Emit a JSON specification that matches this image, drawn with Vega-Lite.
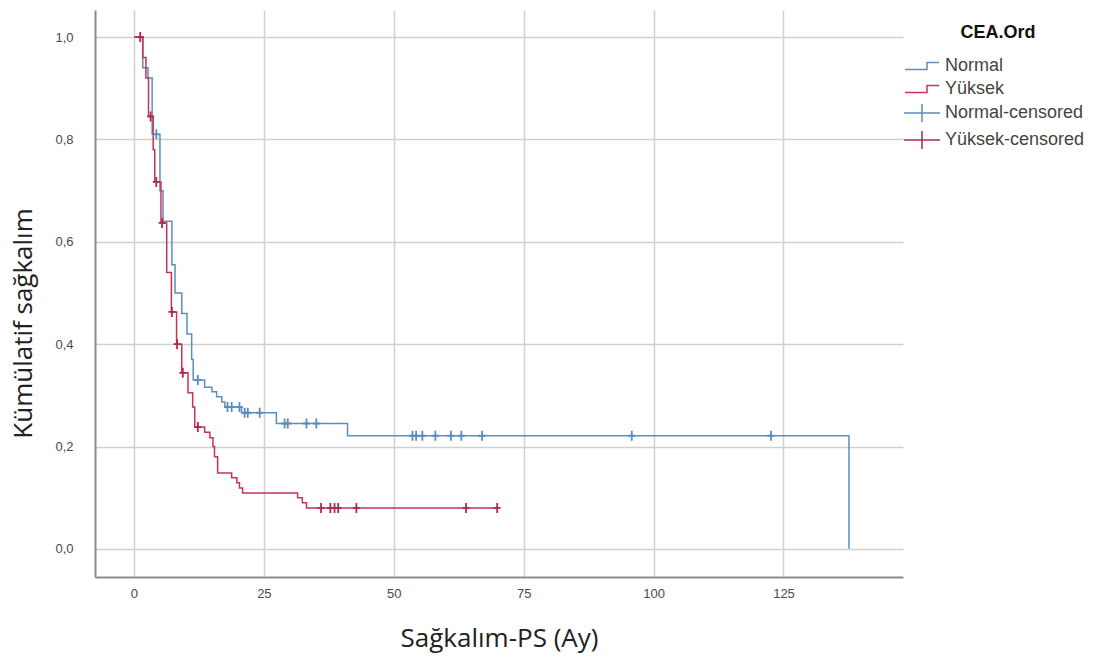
{
  "$schema": "https://vega.github.io/schema/vega-lite/v6.json",
  "width": 808,
  "height": 567,
  "autosize": {"type": "none"},
  "padding": {"left": 95, "top": 10, "right": 190, "bottom": 85},
  "background": "white",
  "config": {"view": {"stroke": null}},
  "datasets": {
    "curves": [
      {"grp": "Normal", "t": 0, "s": 1.0},
      {"grp": "Normal", "t": 1.7, "s": 0.94},
      {"grp": "Normal", "t": 2.7, "s": 0.92},
      {"grp": "Normal", "t": 3.5, "s": 0.81},
      {"grp": "Normal", "t": 5.0, "s": 0.70},
      {"grp": "Normal", "t": 5.6, "s": 0.64},
      {"grp": "Normal", "t": 7.3, "s": 0.555},
      {"grp": "Normal", "t": 7.9, "s": 0.50},
      {"grp": "Normal", "t": 9.2, "s": 0.46},
      {"grp": "Normal", "t": 10.2, "s": 0.42},
      {"grp": "Normal", "t": 11.1, "s": 0.37},
      {"grp": "Normal", "t": 11.4, "s": 0.33},
      {"grp": "Normal", "t": 13.6, "s": 0.316},
      {"grp": "Normal", "t": 15.0, "s": 0.307},
      {"grp": "Normal", "t": 15.9, "s": 0.297},
      {"grp": "Normal", "t": 16.9, "s": 0.287},
      {"grp": "Normal", "t": 17.5, "s": 0.277},
      {"grp": "Normal", "t": 20.7, "s": 0.266},
      {"grp": "Normal", "t": 27.4, "s": 0.245},
      {"grp": "Normal", "t": 41.1, "s": 0.221},
      {"grp": "Normal", "t": 137.6, "s": 0.0},
      {"grp": "Yüksek", "t": 0, "s": 1.0},
      {"grp": "Yüksek", "t": 1.7, "s": 0.96},
      {"grp": "Yüksek", "t": 2.3, "s": 0.92},
      {"grp": "Yüksek", "t": 2.8, "s": 0.845},
      {"grp": "Yüksek", "t": 3.7, "s": 0.78},
      {"grp": "Yüksek", "t": 4.0, "s": 0.717},
      {"grp": "Yüksek", "t": 5.2, "s": 0.637},
      {"grp": "Yüksek", "t": 6.3, "s": 0.54},
      {"grp": "Yüksek", "t": 7.2, "s": 0.463},
      {"grp": "Yüksek", "t": 8.2, "s": 0.40},
      {"grp": "Yüksek", "t": 9.2, "s": 0.344},
      {"grp": "Yüksek", "t": 10.4, "s": 0.305},
      {"grp": "Yüksek", "t": 11.3, "s": 0.277},
      {"grp": "Yüksek", "t": 11.7, "s": 0.238},
      {"grp": "Yüksek", "t": 13.6, "s": 0.228},
      {"grp": "Yüksek", "t": 14.6, "s": 0.217},
      {"grp": "Yüksek", "t": 15.2, "s": 0.20},
      {"grp": "Yüksek", "t": 15.5, "s": 0.18},
      {"grp": "Yüksek", "t": 16.1, "s": 0.148},
      {"grp": "Yüksek", "t": 18.8, "s": 0.139},
      {"grp": "Yüksek", "t": 19.8, "s": 0.129},
      {"grp": "Yüksek", "t": 20.3, "s": 0.119},
      {"grp": "Yüksek", "t": 20.9, "s": 0.109},
      {"grp": "Yüksek", "t": 31.5, "s": 0.10},
      {"grp": "Yüksek", "t": 32.4, "s": 0.09},
      {"grp": "Yüksek", "t": 33.2, "s": 0.08},
      {"grp": "Yüksek", "t": 69.9, "s": 0.08}
    ],
    "censored": [
      {"grp": "Normal-censored", "t": 4.3, "s": 0.81},
      {"grp": "Normal-censored", "t": 12.3, "s": 0.33},
      {"grp": "Normal-censored", "t": 18.0, "s": 0.277},
      {"grp": "Normal-censored", "t": 18.8, "s": 0.277},
      {"grp": "Normal-censored", "t": 20.3, "s": 0.277},
      {"grp": "Normal-censored", "t": 21.3, "s": 0.266},
      {"grp": "Normal-censored", "t": 21.9, "s": 0.266},
      {"grp": "Normal-censored", "t": 24.2, "s": 0.266},
      {"grp": "Normal-censored", "t": 29.0, "s": 0.245},
      {"grp": "Normal-censored", "t": 29.6, "s": 0.245},
      {"grp": "Normal-censored", "t": 33.2, "s": 0.245},
      {"grp": "Normal-censored", "t": 35.1, "s": 0.245},
      {"grp": "Normal-censored", "t": 53.6, "s": 0.221},
      {"grp": "Normal-censored", "t": 54.3, "s": 0.221},
      {"grp": "Normal-censored", "t": 55.5, "s": 0.221},
      {"grp": "Normal-censored", "t": 58.0, "s": 0.221},
      {"grp": "Normal-censored", "t": 61.0, "s": 0.221},
      {"grp": "Normal-censored", "t": 63.0, "s": 0.221},
      {"grp": "Normal-censored", "t": 67.0, "s": 0.221},
      {"grp": "Normal-censored", "t": 95.8, "s": 0.221},
      {"grp": "Normal-censored", "t": 122.6, "s": 0.221},
      {"grp": "Yüksek-censored", "t": 1.2, "s": 1.0},
      {"grp": "Yüksek-censored", "t": 3.2, "s": 0.845},
      {"grp": "Yüksek-censored", "t": 4.3, "s": 0.717},
      {"grp": "Yüksek-censored", "t": 5.4, "s": 0.637},
      {"grp": "Yüksek-censored", "t": 7.3, "s": 0.463},
      {"grp": "Yüksek-censored", "t": 8.3, "s": 0.40},
      {"grp": "Yüksek-censored", "t": 9.4, "s": 0.344},
      {"grp": "Yüksek-censored", "t": 12.3, "s": 0.238},
      {"grp": "Yüksek-censored", "t": 36.0, "s": 0.08},
      {"grp": "Yüksek-censored", "t": 37.8, "s": 0.08},
      {"grp": "Yüksek-censored", "t": 38.6, "s": 0.08},
      {"grp": "Yüksek-censored", "t": 39.3, "s": 0.08},
      {"grp": "Yüksek-censored", "t": 42.8, "s": 0.08},
      {"grp": "Yüksek-censored", "t": 63.9, "s": 0.08},
      {"grp": "Yüksek-censored", "t": 69.9, "s": 0.08}
    ]
  },
  "layer": [
    {
      "data": {"name": "curves"},
      "mark": {"type": "line", "interpolate": "step-after", "strokeWidth": 1.5},
      "encoding": {
        "x": {
          "field": "t", "type": "quantitative",
          "scale": {"domain": [-7.5, 148], "nice": false, "zero": false},
          "axis": {
            "values": [0, 25, 50, 75, 100, 125],
            "title": "Sağkalım-PS (Ay)",
            "grid": true, "gridColor": "#d0d0d0", "gridWidth": 1.5,
            "domainColor": "#8c8c8c", "domainWidth": 2,
            "ticks": false, "labelPadding": 10,
            "labelFont": "Liberation Sans", "labelFontSize": 13, "labelColor": "#4a4a4a",
            "titleFont": "Open Sans", "titleFontSize": 26, "titleFontWeight": "normal",
            "titleColor": "#222222", "titleY": 61, "titleBaseline": "middle"
          }
        },
        "y": {
          "field": "s", "type": "quantitative",
          "scale": {"domain": [-0.055, 1.053], "nice": false, "zero": false},
          "axis": {
            "values": [0, 0.2, 0.4, 0.6, 0.8, 1.0],
            "labelExpr": "replace(format(datum.value, '.1f'), '.', ',')",
            "title": "Kümülatif sağkalım",
            "grid": true, "gridColor": "#d0d0d0", "gridWidth": 1.5,
            "domainColor": "#8c8c8c", "domainWidth": 2,
            "ticks": false, "labelPadding": 22,
            "labelFont": "Liberation Sans", "labelFontSize": 13, "labelColor": "#4a4a4a",
            "titleFont": "Open Sans", "titleFontSize": 26, "titleFontWeight": "normal",
            "titleColor": "#222222", "titleX": -72, "titleY": 313, "titleBaseline": "middle", "titleAngle": -90
          }
        },
        "color": {
          "field": "grp", "type": "nominal",
          "scale": {
            "domain": ["Normal", "Yüksek", "Normal-censored", "Yüksek-censored"],
            "range": ["#5b8fbf", "#c8325a", "#5a8cc0", "#b0284e"]
          },
          "legend": {
            "title": "CEA.Ord", "orient": "none", "legendX": 816, "legendY": 14,
            "titleFont": "Liberation Sans", "titleFontSize": 18, "titleFontWeight": "bold",
            "titleColor": "#111111", "titleAnchor": "middle", "titlePadding": 13,
            "labelFont": "Liberation Sans", "labelFontSize": 18, "labelColor": "#444444",
            "symbolSize": 400, "symbolStrokeWidth": 1.5, "labelOffset": 12, "rowPadding": 3, "padding": 0,
            "encode": {
              "symbols": {
                "update": {
                  "shape": {"signal": "indexof(datum.value, 'censored') >= 0 ? 'M-1.8,0H1.8M0,-0.9V0.9' : 'M-1.7,0.35H0.5V-0.35H1.7'"},
                  "fill": {"value": "transparent"}
                }
              }
            }
          }
        }
      }
    },
    {
      "data": {"name": "censored"},
      "mark": {"type": "point", "shape": "M-0.7,0H0.7M0,-1V1", "filled": false, "size": 100, "strokeWidth": 1.8, "opacity": 1},
      "encoding": {
        "x": {"field": "t", "type": "quantitative"},
        "y": {"field": "s", "type": "quantitative"},
        "color": {"field": "grp", "type": "nominal"}
      }
    }
  ]
}
